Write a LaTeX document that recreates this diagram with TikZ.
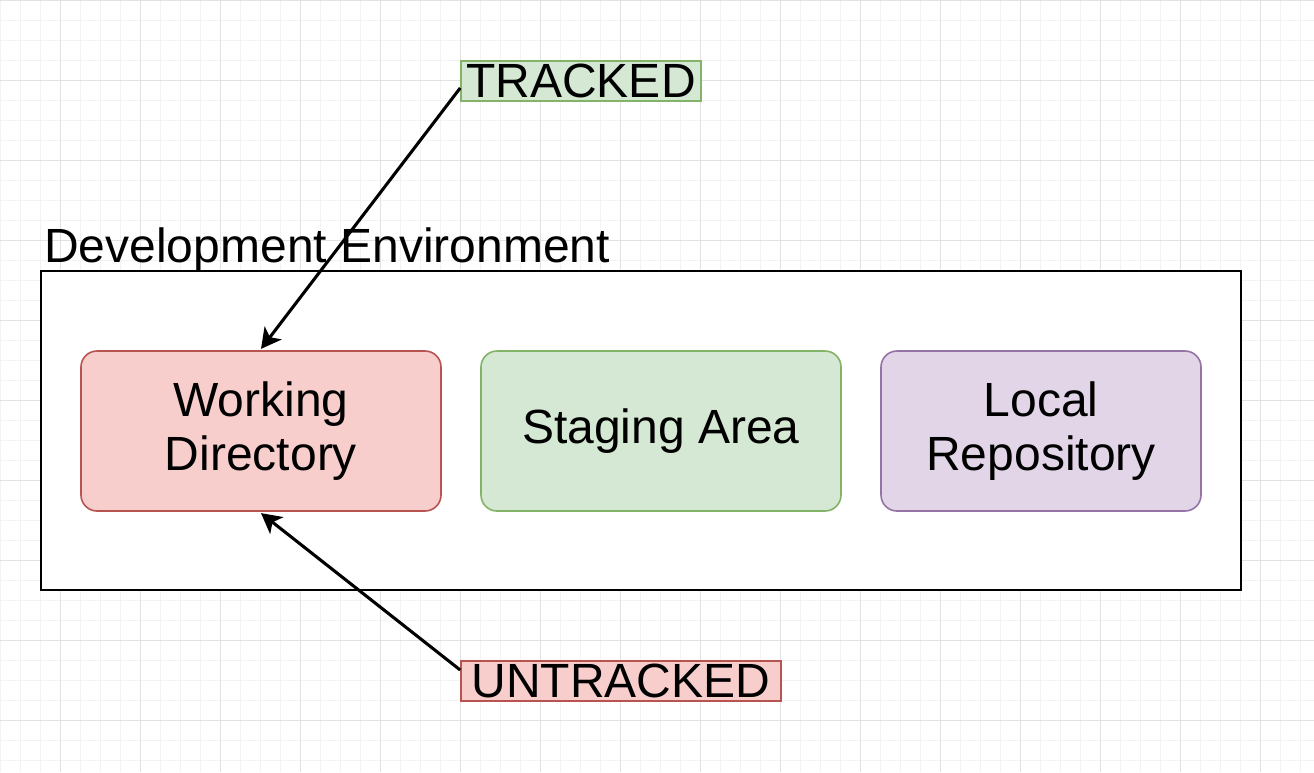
\documentclass[tikz,border=0pt]{standalone}
\usepackage{fontspec}
\setmainfont{Liberation Sans}
\usetikzlibrary{arrows.meta}

\definecolor{redfill}{HTML}{F8CECC}
\definecolor{redline}{HTML}{B85450}
\definecolor{greenfill}{HTML}{D5E8D4}
\definecolor{greenline}{HTML}{82B366}
\definecolor{purplefill}{HTML}{E1D5E7}
\definecolor{purpleline}{HTML}{9673A6}
\definecolor{gridminor}{HTML}{F3F3F3}
\definecolor{gridmajor}{HTML}{E2E2E2}

\begin{document}
\begin{tikzpicture}[x=0.75pt,y=-0.75pt,
    bigtext/.style={font=\fontsize{36}{40}\selectfont},
    area/.style={draw,bigtext,rounded corners=12pt,line width=1.2pt,align=center,
        minimum width=270pt,minimum height=120pt,inner sep=0pt},
    tag/.style={draw,bigtext,line width=1.2pt,inner sep=0pt,minimum height=30pt},
    link/.style={-{Stealth[length=15pt,width=16pt,inset=4pt]},line width=2.3pt}]
\useasboundingbox (0,0) rectangle (1314,772);
\fill[white] (0,0) rectangle (1314,772);
% background grid
\foreach \gx in {0,20,...,1300} \draw[gridminor,line width=0.75pt] (\gx,0) -- (\gx,772);
\foreach \gy in {0,20,...,760} \draw[gridminor,line width=0.75pt] (0,\gy) -- (1314,\gy);
\foreach \gx in {60,140,...,1300} \draw[gridmajor,line width=0.75pt] (\gx,0) -- (\gx,772);
\foreach \gy in {0,80,...,720} \draw[gridmajor,line width=0.75pt] (0,\gy) -- (1314,\gy);

\node (env) [draw,fill=white,line width=1.5pt,minimum width=900pt,minimum height=239.25pt] at (641,430.5) {};
\node (envlabel) [bigtext,anchor=base west,inner sep=0pt] at (44,262) {Development Environment};

\node (work) [area,fill=redfill,draw=redline] at (261,431) {Working\\Directory};
\node (staging) [area,fill=greenfill,draw=greenline] at (661,431) {Staging Area};
\node (local) [area,fill=purplefill,draw=purpleline,minimum width=240pt] at (1041,431) {Local\\Repository};

\node (track) [tag,fill=greenfill,draw=greenline,minimum width=180pt] at (581,81) {TRACKED};
\node (untrack) [tag,fill=redfill,draw=redline,minimum width=240pt] at (621,681) {UNTRACKED};

\draw[link] ([yshift=-5.25pt]track.west) -- ([yshift=1pt]work.north);
\draw[link] ([yshift=8.25pt]untrack.west) -- ([yshift=-1pt]work.south);
\end{tikzpicture}
\end{document}
